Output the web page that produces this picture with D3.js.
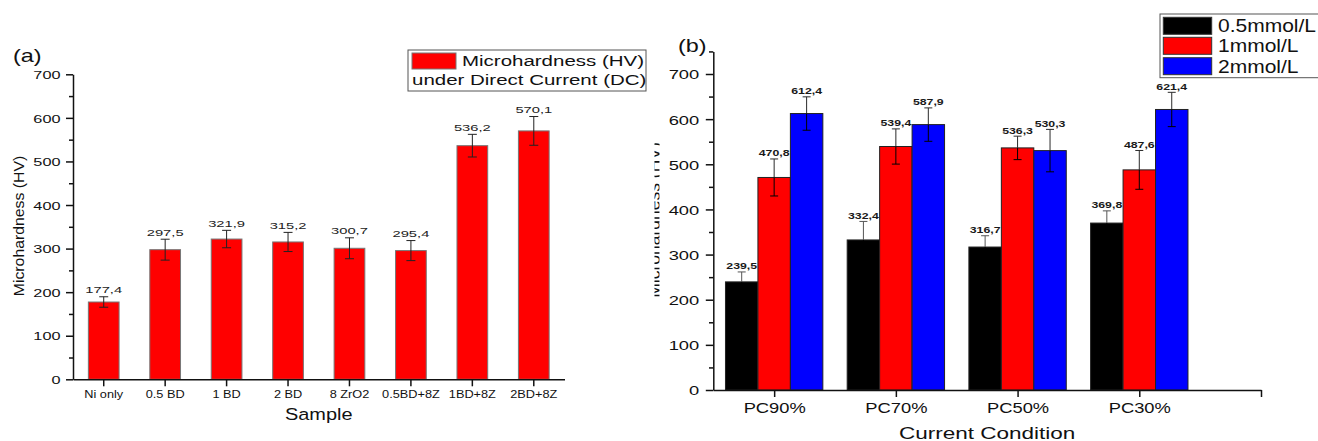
<!DOCTYPE html>
<html>
<head>
<meta charset="utf-8">
<script src="https://cdn.jsdelivr.net/npm/d3@7/dist/d3.min.js"></script>
<style>
  html, body { margin: 0; padding: 0; background: #fff; }
  svg { display: block; font-family: "Liberation Sans", Arial, sans-serif; }
</style>
</head>
<body>
<svg id="chart" width="1318" height="441"></svg>
<script>
// ---------- DATA ----------
const samplesA = ["Ni only", "0.5 BD", "1 BD", "2 BD", "8 ZrO2", "0.5BD+8Z", "1BD+8Z", "2BD+8Z"];
const hardnessA = [177.4, 297.5, 321.9, 315.2, 300.7, 295.4, 536.2, 570.1];
const errA = [12, 24, 20, 22, 24, 23, 26, 33];
const yTicksA = [0, 100, 200, 300, 400, 500, 600, 700];
const yMinorA = [50, 150, 250, 350, 450, 550, 650];

const conditionsB = ["PC90%", "PC70%", "PC50%", "PC30%"];
const seriesB = ["0.5mmol/L", "1mmol/L", "2mmol/L"];
const vals05 = [239.5, 332.4, 316.7, 369.8];
const vals1 = [470.8, 539.4, 536.3, 487.6];
const vals2 = [612.4, 587.9, 530.3, 621.4];
const err05 = [22, 41, 25, 27];
const err1 = [41, 39, 26, 43];
const err2 = [37, 37, 47, 38];
const yTicksB = [0, 100, 200, 300, 400, 500, 600, 700];
const yMinorB = [50, 150, 250, 350, 450, 550, 650, 750];

const colorsB = ["#000000", "#ff0000", "#0000ff"];
const colorA = "#ff0000";
const INK = "#111";

const fmt = v => d3.format(".1f")(v).replace(".", ",");

const svg = d3.select("#chart");

// text helper: horizontally stretched text
function txt(parent, x, y, str, o) {
  o = o || {};
  const g = parent.append("g")
    .attr("transform", `translate(${x},${y}) rotate(${o.rotate || 0}) scale(${o.sx || 1},1)`);
  g.append("text")
    .attr("text-anchor", o.anchor || "middle")
    .attr("font-size", o.size || 12)
    .attr("font-weight", o.weight || "normal")
    .attr("fill", o.fill || INK)
    .text(str);
  return g;
}

function styleAxis(g, sw) {
  g.select(".domain").attr("stroke", INK).attr("stroke-width", sw);
  g.selectAll(".tick line").attr("stroke", INK).attr("stroke-width", sw);
}

// ================= PANEL A =================
const A = { left: 73, right: 564.5, top: 74.3, bottom: 379.3 };
const xA = d3.scaleBand().domain(samplesA).range([A.left, A.right]).paddingInner(0.5).paddingOuter(0.25);
const yA = d3.scaleLinear().domain([0, 700]).range([A.bottom, A.top]);
const gA = svg.append("g");

// bars
gA.selectAll("rect.bar").data(samplesA).join("rect")
  .attr("x", d => xA(d))
  .attr("y", (d, i) => yA(hardnessA[i]))
  .attr("width", xA.bandwidth())
  .attr("height", (d, i) => yA(0) - yA(hardnessA[i]))
  .attr("fill", colorA)
  .attr("stroke", "#777")
  .attr("stroke-width", 1);

// error bars
samplesA.forEach((d, i) => {
  const cx = xA(d) + xA.bandwidth() / 2;
  const hi = yA(hardnessA[i] + errA[i]), lo = yA(hardnessA[i] - errA[i]);
  const eg = gA.append("g").attr("stroke", "#222").attr("stroke-width", 1);
  eg.append("line").attr("x1", cx).attr("x2", cx).attr("y1", hi).attr("y2", lo);
  eg.append("line").attr("x1", cx - 4.5).attr("x2", cx + 4.5).attr("y1", hi).attr("y2", hi);
  eg.append("line").attr("x1", cx - 4.5).attr("x2", cx + 4.5).attr("y1", lo).attr("y2", lo);
  txt(gA, cx, hi - 3.7, fmt(hardnessA[i]), { size: 9.5, sx: 1.55, fill: "#222" });
});

// y axis
const yAxA = gA.append("g").attr("transform", `translate(${A.left},0)`)
  .call(d3.axisLeft(yA).tickValues(yTicksA).tickSize(7).tickSizeOuter(0).tickPadding(5));
styleAxis(yAxA, 1.5);
yAxA.selectAll(".tick text").each(function() {
  const t = d3.select(this);
  t.attr("x", 0).attr("dy", "0.36em").attr("font-size", 11.8).attr("fill", INK)
   .attr("font-family", "Liberation Sans, Arial, sans-serif")
   .attr("transform", "translate(-12.5,0) scale(1.38,1)");
});
const yMinA = gA.append("g").attr("transform", `translate(${A.left},0)`)
  .call(d3.axisLeft(yA).tickValues(yMinorA).tickSize(4).tickFormat(""));
yMinA.select(".domain").remove();
yMinA.selectAll(".tick line").attr("stroke", INK).attr("stroke-width", 1.5);

// x axis
const xAxA = gA.append("g").attr("transform", `translate(0,${A.bottom})`)
  .call(d3.axisBottom(xA).tickSize(7).tickSizeOuter(0));
styleAxis(xAxA, 1.5);
xAxA.selectAll(".tick text").each(function() {
  d3.select(this).attr("y", 0).attr("dy", null).attr("font-size", 10.7).attr("fill", INK)
    .attr("font-family", "Liberation Sans, Arial, sans-serif")
    .attr("transform", "translate(0,18.2) scale(1.19,1)");
});

// titles
txt(gA, (A.left + A.right) / 2, 420, "Sample", { size: 17.2, sx: 1.16 });
txt(gA, 24, 226, "Microhardness (HV)", { size: 14.5, sx: 1.09, rotate: -90 });
txt(gA, 13, 62, "(a)", { size: 18, sx: 1.3, anchor: "start" });

// legend A
gA.append("rect").attr("x", 408).attr("y", 50).attr("width", 238).attr("height", 41)
  .attr("fill", "#fff").attr("stroke", "#555").attr("stroke-width", 1);
gA.append("rect").attr("x", 412).attr("y", 53).attr("width", 44).attr("height", 16)
  .attr("fill", colorA).attr("stroke", "#777").attr("stroke-width", 1);
txt(gA, 462, 66, "Microhardness (HV)", { size: 15.4, sx: 1.33, anchor: "start" });
txt(gA, 412, 85, "under Direct Current (DC)", { size: 15.4, sx: 1.33, anchor: "start" });

// ================= PANEL B =================
const B = { left: 713.3, right: 1261, bottom: 390 };
const xB = d3.scaleLinear().domain([0.5, 5]).range([B.left, B.right]);
const yB = d3.scaleLinear().domain([0, 700]).range([B.bottom, 74]);
const gB = svg.append("g");
const unit = xB(1) - xB(0);
const groupW = 0.8 * unit;
const barW = groupW / 3;
const valsB = [vals05, vals1, vals2];
const errsB = [err05, err1, err2];

// clipped y title of panel B (partly hidden in reference)
svg.append("clipPath").attr("id", "clipB").append("rect")
  .attr("x", 654.5).attr("y", 0).attr("width", 5).attr("height", 441);
const tB = gB.append("g").attr("clip-path", "url(#clipB)");
txt(tB, 659.5, 220, "Microhardness (HV)", { size: 17.5, sx: 1.0, rotate: -90 });

seriesB.forEach((s, si) => {
  conditionsB.forEach((c, ci) => {
    const v = valsB[si][ci];
    const x0 = xB(ci + 1) - groupW / 2 + si * barW;
    gB.append("rect")
      .attr("x", x0).attr("y", yB(v))
      .attr("width", barW).attr("height", yB(0) - yB(v))
      .attr("fill", colorsB[si]).attr("stroke", "#222").attr("stroke-width", 1);
  });
});
seriesB.forEach((s, si) => {
  conditionsB.forEach((c, ci) => {
    const v = valsB[si][ci], e = errsB[si][ci];
    const cx = xB(ci + 1) - groupW / 2 + si * barW + barW / 2;
    const hi = yB(v + e), lo = yB(v - e);
    const eg = gB.append("g").attr("stroke", si === 0 ? "#555" : "#2a2a2a").attr("stroke-width", 1);
    eg.append("line").attr("x1", cx).attr("x2", cx).attr("y1", hi).attr("y2", yB(v));
    eg.append("line").attr("x1", cx - 4).attr("x2", cx + 4).attr("y1", hi).attr("y2", hi);
    const eIn = gB.append("g").attr("stroke", "#000").attr("stroke-width", 1);
    eIn.append("line").attr("x1", cx).attr("x2", cx).attr("y1", yB(v)).attr("y2", lo);
    eIn.append("line").attr("x1", cx - 4).attr("x2", cx + 4).attr("y1", lo).attr("y2", lo);
    txt(gB, cx, hi - 2.5, fmt(v), { size: 8.8, sx: 1.4, weight: "bold", fill: "#1a1a1a" });
  });
});

// y axis B
const yAxisScaleB = d3.scaleLinear().domain([0, 750]).range([yB(0), yB(750)]);
const yAxB = gB.append("g").attr("transform", `translate(${B.left},0)`)
  .call(d3.axisLeft(yAxisScaleB).tickValues(yTicksB).tickSize(7.5).tickSizeOuter(0).tickPadding(6));
styleAxis(yAxB, 1.5);
yAxB.selectAll(".tick text").each(function() {
  d3.select(this).attr("x", 0).attr("dy", "0.36em").attr("font-size", 13.5).attr("fill", INK)
    .attr("font-family", "Liberation Sans, Arial, sans-serif")
    .attr("transform", "translate(-14,0) scale(1.36,1)");
});
const yMinB = gB.append("g").attr("transform", `translate(${B.left},0)`)
  .call(d3.axisLeft(yAxisScaleB).tickValues(yMinorB).tickSize(4.3).tickFormat(""));
yMinB.select(".domain").remove();
yMinB.selectAll(".tick line").attr("stroke", INK).attr("stroke-width", 1.5);

// x axis B
const xAxB = gB.append("g").attr("transform", `translate(0,${B.bottom})`)
  .call(d3.axisBottom(xB).tickValues([1, 2, 3, 4, 5]).tickSize(7).tickSizeOuter(0)
    .tickFormat(i => conditionsB[i - 1] || ""));
styleAxis(xAxB, 1.5);
xAxB.selectAll(".tick text").each(function() {
  d3.select(this).attr("y", 0).attr("dy", null).attr("font-size", 15.4).attr("fill", INK)
    .attr("font-family", "Liberation Sans, Arial, sans-serif")
    .attr("transform", "translate(0,22.7) scale(1.19,1)");
});

txt(gB, (B.left + B.right) / 2, 439, "Current Condition", { size: 17.2, sx: 1.31 });
txt(gB, 678, 52, "(b)", { size: 18, sx: 1.3, anchor: "start" });

// legend B
gB.append("rect").attr("x", 1160).attr("y", 14).attr("width", 200).attr("height", 63.7)
  .attr("fill", "#fff").attr("stroke", "#555").attr("stroke-width", 1);
const legRowsY = [17.3, 37.3, 57.7];
seriesB.forEach((s, si) => {
  gB.append("rect").attr("x", 1163.3).attr("y", legRowsY[si]).attr("width", 48.4).attr("height", 17)
    .attr("fill", colorsB[si]).attr("stroke", "#333").attr("stroke-width", 1);
  txt(gB, 1218, legRowsY[si] + 15, s, { size: 18.6, sx: 1.13, anchor: "start" });
});
</script>
</body>
</html>
